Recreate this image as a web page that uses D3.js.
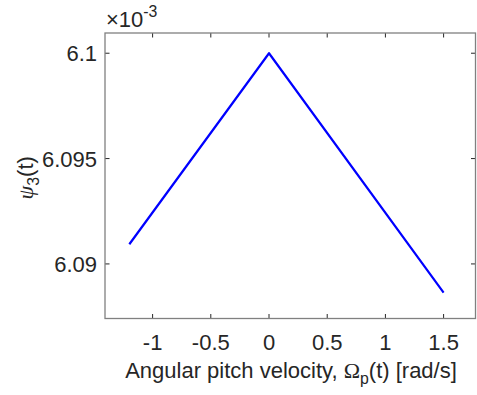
<!DOCTYPE html>
<html><head><meta charset="utf-8">
<script src="https://cdn.jsdelivr.net/npm/d3@7"></script>
<style>body{margin:0;background:#fff}svg{display:block}</style>
</head><body>
<script>
const xValues = [-1.2, 0, 1.5];
const yValues = [6.090935, 6.1, 6.08864];
const xTicks = [-1, -0.5, 0, 0.5, 1, 1.5];
const xTickLabels = ["-1", "-0.5", "0", "0.5", "1", "1.5"];
const yTicks = [6.09, 6.095, 6.1];
const yTickLabels = ["6.09", "6.095", "6.1"];
const xDomain = [-1.409, 1.774];
const yDomain = [6.08741, 6.10096];

const W = 477, H = 395;
const m = {left: 105, right: 475.5, top: 33, bottom: 318.5};
const font = "'Liberation Sans', Arial, sans-serif";
const fs = 22;
const textCol = "#262626";
const axisCol = "#808080";

const svg = d3.select("body").append("svg").attr("width", W).attr("height", H);
const x = d3.scaleLinear().domain(xDomain).range([m.left, m.right]);
const y = d3.scaleLinear().domain(yDomain).range([m.bottom, m.top]);

const tl = 4.5;
const g = svg.append("g");
xTicks.forEach(v => {
  g.append("line").attr("x1", x(v)).attr("x2", x(v)).attr("y1", m.bottom).attr("y2", m.bottom - tl).attr("stroke", textCol).attr("stroke-width", 1);
  g.append("line").attr("x1", x(v)).attr("x2", x(v)).attr("y1", m.top).attr("y2", m.top + tl).attr("stroke", textCol).attr("stroke-width", 1);
});
yTicks.forEach(v => {
  g.append("line").attr("y1", y(v)).attr("y2", y(v)).attr("x1", m.left).attr("x2", m.left + tl).attr("stroke", textCol).attr("stroke-width", 1);
  g.append("line").attr("y1", y(v)).attr("y2", y(v)).attr("x1", m.right).attr("x2", m.right - tl).attr("stroke", textCol).attr("stroke-width", 1);
});

svg.append("rect").attr("x", m.left).attr("y", m.top).attr("width", m.right - m.left).attr("height", m.bottom - m.top)
  .attr("fill", "none").attr("stroke", axisCol).attr("stroke-width", 1.3);

const line = d3.line().x((d, i) => x(xValues[i])).y(d => y(d));
svg.append("path").datum(yValues).attr("d", line).attr("fill", "none").attr("stroke", "#0000ff").attr("stroke-width", 2.2).attr("stroke-linejoin", "round");

xTicks.forEach((v, i) => {
  svg.append("text").attr("x", x(v)).attr("y", 350).attr("text-anchor", "middle")
    .attr("font-family", font).attr("font-size", fs).attr("fill", textCol).text(xTickLabels[i]);
});
yTicks.forEach((v, i) => {
  svg.append("text").attr("x", 97).attr("y", y(v) + 8).attr("text-anchor", "end")
    .attr("font-family", font).attr("font-size", fs).attr("fill", textCol).text(yTickLabels[i]);
});

const xl = svg.append("text").attr("x", 291).attr("y", 378).attr("text-anchor", "middle")
  .attr("font-family", font).attr("font-size", fs).attr("fill", textCol);
xl.append("tspan").text("Angular pitch velocity, ");
xl.append("tspan").attr("font-family", "'Liberation Serif', 'Times New Roman', serif").text("Ω");
xl.append("tspan").attr("font-size", fs * 0.72).attr("dy", 6).text("p");
xl.append("tspan").attr("dy", -6).text("(t) [rad/s]");

const yl = svg.append("text").attr("transform", `translate(33,${(m.top + m.bottom) / 2 + 2}) rotate(-90)`).attr("text-anchor", "middle")
  .attr("font-family", font).attr("font-size", fs).attr("fill", textCol);
yl.append("tspan").attr("font-family", "'Liberation Serif', 'Times New Roman', serif").attr("font-style", "italic").text("ψ");
yl.append("tspan").attr("font-size", fs * 0.72).attr("dy", 6).text("3");
yl.append("tspan").attr("dy", -6).text("(t)");

const ex = svg.append("text").attr("x", 106).attr("y", 27).attr("font-family", font).attr("font-size", fs).attr("fill", textCol);
ex.append("tspan").text("×10");
ex.append("tspan").attr("font-size", fs * 0.72).attr("dy", -10).text("-3");
</script>
</body></html>
